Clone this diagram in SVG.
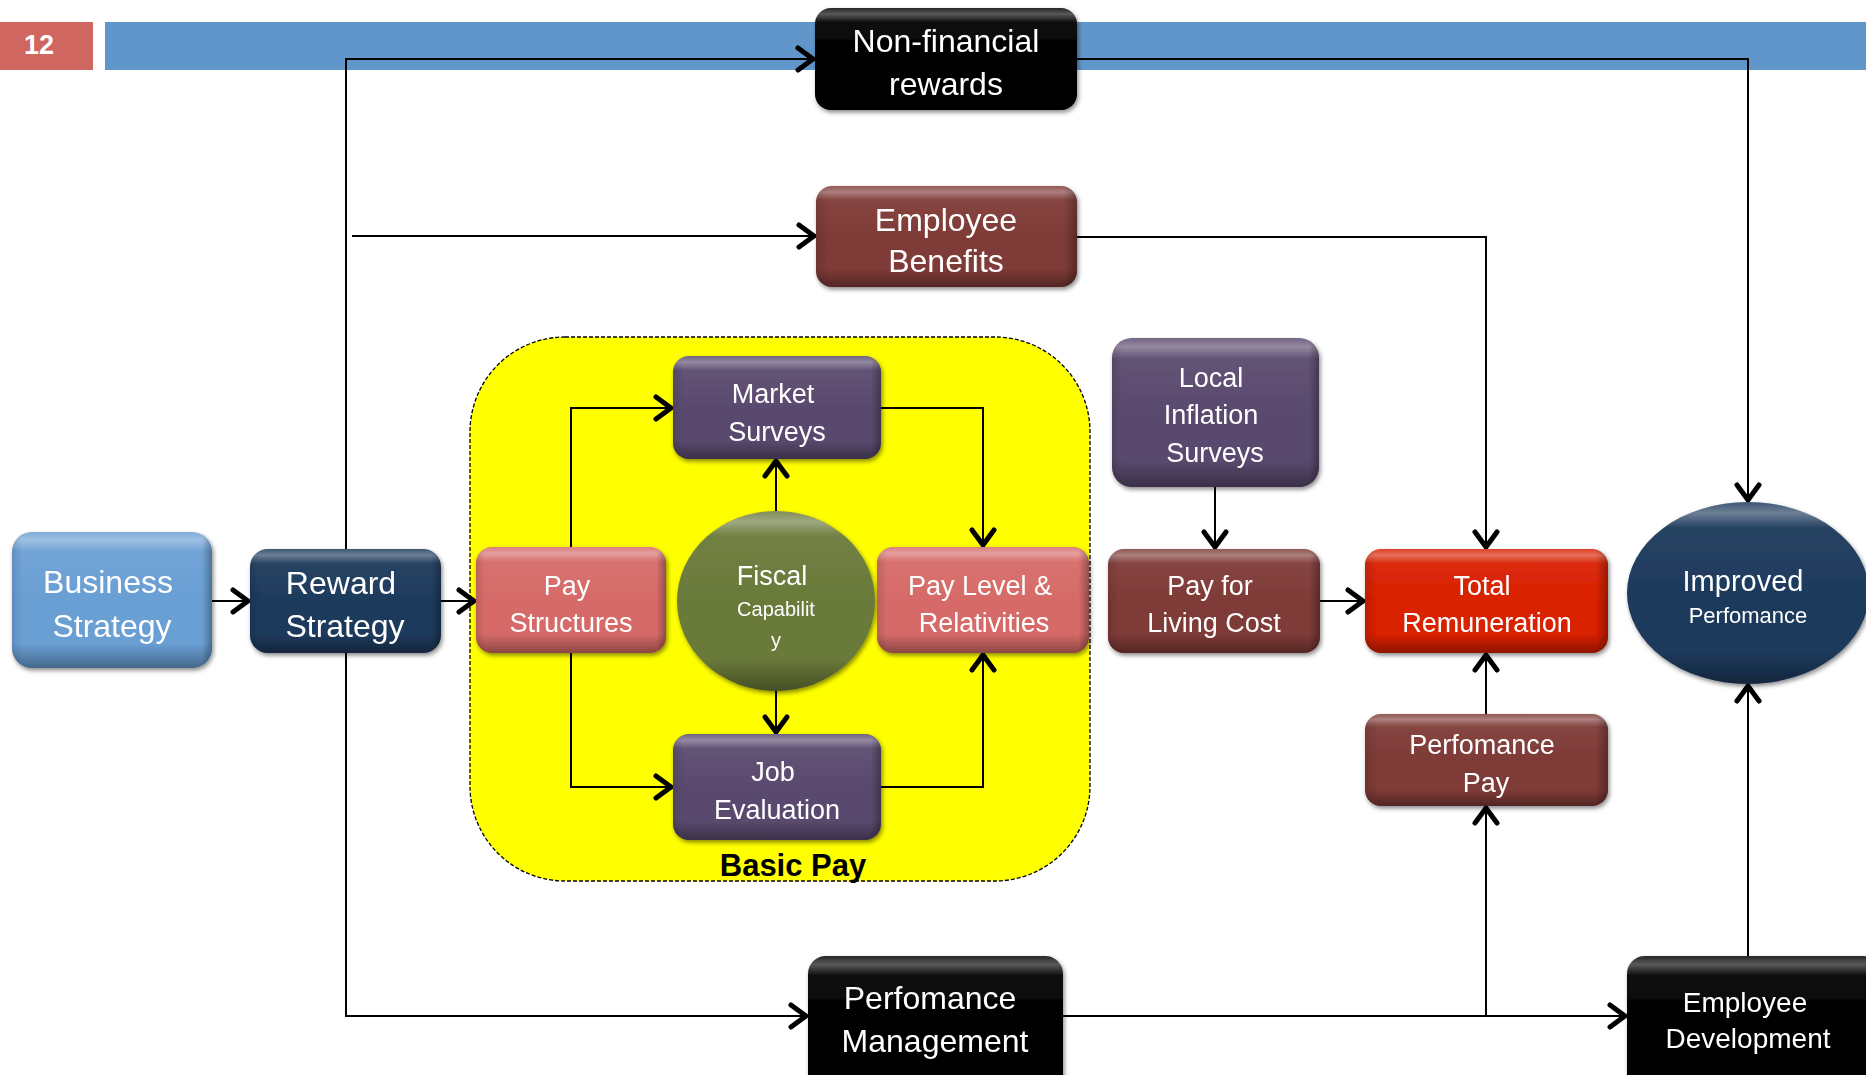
<svg xmlns="http://www.w3.org/2000/svg" width="1866" height="1075" viewBox="0 0 1866 1075">
<defs>
<linearGradient id="gloss" x1="0" y1="0" x2="0" y2="1">
<stop offset="0" stop-color="#fff" stop-opacity="0.15"/>
<stop offset="0.06" stop-color="#fff" stop-opacity="0.35"/>
<stop offset="0.14" stop-color="#fff" stop-opacity="0.05"/>
<stop offset="0.5" stop-color="#fff" stop-opacity="0"/>
<stop offset="0.82" stop-color="#000" stop-opacity="0"/>
<stop offset="1" stop-color="#000" stop-opacity="0.35"/>
</linearGradient>
<linearGradient id="side" x1="0" y1="0" x2="1" y2="0">
<stop offset="0" stop-color="#000" stop-opacity="0.12"/>
<stop offset="0.05" stop-color="#000" stop-opacity="0"/>
<stop offset="0.95" stop-color="#000" stop-opacity="0"/>
<stop offset="1" stop-color="#000" stop-opacity="0.3"/>
</linearGradient>
<filter id="sh" x="-10%" y="-10%" width="125%" height="130%">
<feDropShadow dx="1.5" dy="2.5" stdDeviation="2" flood-color="#000" flood-opacity="0.45"/>
</filter>
<marker id="arr" markerUnits="userSpaceOnUse" markerWidth="40" markerHeight="40" viewBox="-20 -20 40 40" refX="0" refY="0" orient="auto" overflow="visible">
<path d="M-16,-11 L-1,0 L-16,11" fill="none" stroke="#000" stroke-width="5" stroke-linejoin="miter" stroke-linecap="round"/>
</marker>
<style>
.t{font-family:"Liberation Sans",Arial,sans-serif;fill:#fff;text-anchor:middle}
.b{font-size:32px}
.s{font-size:27px}
.ca{fill:none;stroke:#000;stroke-width:2;marker-end:url(#arr)}
.n{filter:url(#sh)}
.ov{fill:url(#gloss)}
.ov2{fill:url(#side)}
.blue{fill:#6a9fd4}
.navy{fill:#1d3a5c}
.pink{fill:#d66b68}
.purp{fill:#5a4a6e}
.brown{fill:#7f3b37}
.red{fill:#d92000}
.olive{fill:#6a7a3a}
.blk{fill:#000}
</style>
</defs>

<g id="header">
<rect x="0" y="22" width="93" height="48" fill="#d06660"/>
<rect x="105" y="22" width="1761" height="48" fill="#6096c9"/>
<text x="39" y="54" font-family="'Liberation Sans Narrow','Liberation Sans',Arial,sans-serif" font-weight="bold" font-size="27" fill="#fff" text-anchor="middle">12</text>
</g>

<g id="basic-pay">
<rect x="470" y="337" width="620" height="544" rx="95" fill="#ffff00" stroke="#000" stroke-width="1.3" stroke-dasharray="4 2"/>
<text x="793" y="876" font-family="'Liberation Sans',Arial,sans-serif" font-weight="bold" font-size="31" fill="#000" text-anchor="middle">Basic Pay</text>
</g>

<g id="connectors">
<path class="ca" d="M212,601 H249"/>
<path class="ca" d="M441,601 H475"/>
<path class="ca" d="M346,549 V59 H814"/>
<path class="ca" d="M352,236 H815"/>
<path class="ca" d="M346,653 V1016 H807"/>
<path class="ca" d="M571,547 V408 H672"/>
<path class="ca" d="M571,653 V787 H672"/>
<path class="ca" d="M881,408 H983 V546"/>
<path class="ca" d="M881,787 H983 V654"/>
<path class="ca" d="M776,512 V460"/>
<path class="ca" d="M776,691 V733"/>
<path class="ca" d="M1215,487 V548"/>
<path class="ca" d="M1320,601 H1364"/>
<path class="ca" d="M1077,237 H1486 V548"/>
<path class="ca" d="M1077,59 H1748 V501"/>
<path class="ca" d="M1063,1016 H1626"/>
<path class="ca" d="M1486,1016 V807"/>
<path class="ca" d="M1486,714 V654"/>
<path class="ca" d="M1748,956 V685"/>
</g>

<g id="non-financial-rewards" class="n">
<rect class="blk" x="815" y="8" width="262" height="102" rx="16"/>
<rect class="ov" x="815" y="8" width="262" height="102" rx="16"/>
<text class="t b" x="946" y="52">Non-financial</text>
<text class="t b" x="946" y="95">rewards</text>
</g>

<g id="employee-benefits" class="n">
<rect class="brown" x="816" y="186" width="261" height="101" rx="16"/>
<rect class="ov" x="816" y="186" width="261" height="101" rx="16"/>
<rect class="ov2" x="816" y="186" width="261" height="101" rx="16"/>
<text class="t b" x="946" y="231">Employee</text>
<text class="t b" x="946" y="272">Benefits</text>
</g>

<g id="business-strategy" class="n">
<rect class="blue" x="12" y="532" width="200" height="136" rx="20"/>
<rect class="ov" x="12" y="532" width="200" height="136" rx="20"/>
<rect class="ov2" x="12" y="532" width="200" height="136" rx="20"/>
<text class="t b" x="108" y="593">Business</text>
<text class="t b" x="112" y="637">Strategy</text>
</g>

<g id="reward-strategy" class="n">
<rect class="navy" x="250" y="549" width="191" height="104" rx="18"/>
<rect class="ov" x="250" y="549" width="191" height="104" rx="18"/>
<rect class="ov2" x="250" y="549" width="191" height="104" rx="18"/>
<text class="t b" x="341" y="594">Reward</text>
<text class="t b" x="345" y="637">Strategy</text>
</g>

<g id="pay-structures" class="n">
<rect class="pink" x="476" y="547" width="190" height="106" rx="16"/>
<rect class="ov" x="476" y="547" width="190" height="106" rx="16"/>
<rect class="ov2" x="476" y="547" width="190" height="106" rx="16"/>
<text class="t s" x="567" y="595">Pay</text>
<text class="t s" x="571" y="632">Structures</text>
</g>

<g id="market-surveys" class="n">
<rect class="purp" x="673" y="356" width="208" height="103" rx="16"/>
<rect class="ov" x="673" y="356" width="208" height="103" rx="16"/>
<rect class="ov2" x="673" y="356" width="208" height="103" rx="16"/>
<text class="t s" x="773" y="403">Market</text>
<text class="t s" x="777" y="441">Surveys</text>
</g>

<g id="fiscal-capability" class="n">
<ellipse class="olive" cx="776" cy="601" rx="99" ry="90"/>
<ellipse class="ov" cx="776" cy="601" rx="99" ry="90"/>
<text class="t" x="772" y="585" font-size="27">Fiscal</text>
<text class="t" x="776" y="616" font-size="20">Capabilit</text>
<text class="t" x="776" y="647" font-size="20">y</text>
</g>

<g id="pay-level-relativities" class="n">
<rect class="pink" x="877" y="547" width="212" height="106" rx="16"/>
<rect class="ov" x="877" y="547" width="212" height="106" rx="16"/>
<rect class="ov2" x="877" y="547" width="212" height="106" rx="16"/>
<text class="t s" x="980" y="595">Pay Level &amp;</text>
<text class="t s" x="984" y="632">Relativities</text>
</g>

<g id="job-evaluation" class="n">
<rect class="purp" x="673" y="734" width="208" height="106" rx="16"/>
<rect class="ov" x="673" y="734" width="208" height="106" rx="16"/>
<rect class="ov2" x="673" y="734" width="208" height="106" rx="16"/>
<text class="t s" x="773" y="781">Job</text>
<text class="t s" x="777" y="819">Evaluation</text>
</g>

<g id="local-inflation-surveys" class="n">
<rect class="purp" x="1112" y="338" width="207" height="149" rx="20"/>
<rect class="ov" x="1112" y="338" width="207" height="149" rx="20"/>
<rect class="ov2" x="1112" y="338" width="207" height="149" rx="20"/>
<text class="t s" x="1211" y="387">Local</text>
<text class="t s" x="1211" y="424">Inflation</text>
<text class="t s" x="1215" y="462">Surveys</text>
</g>

<g id="pay-for-living-cost" class="n">
<rect class="brown" x="1108" y="549" width="212" height="104" rx="16"/>
<rect class="ov" x="1108" y="549" width="212" height="104" rx="16"/>
<rect class="ov2" x="1108" y="549" width="212" height="104" rx="16"/>
<text class="t s" x="1210" y="595">Pay for</text>
<text class="t s" x="1214" y="632">Living Cost</text>
</g>

<g id="total-remuneration" class="n">
<rect class="red" x="1365" y="549" width="243" height="104" rx="16"/>
<rect class="ov" x="1365" y="549" width="243" height="104" rx="16"/>
<rect class="ov2" x="1365" y="549" width="243" height="104" rx="16"/>
<text class="t s" x="1482" y="595">Total</text>
<text class="t s" x="1487" y="632">Remuneration</text>
</g>

<g id="perfomance-pay" class="n">
<rect class="brown" x="1365" y="714" width="243" height="92" rx="16"/>
<rect class="ov" x="1365" y="714" width="243" height="92" rx="16"/>
<rect class="ov2" x="1365" y="714" width="243" height="92" rx="16"/>
<text class="t s" x="1482" y="754">Perfomance</text>
<text class="t s" x="1486" y="792">Pay</text>
</g>

<g id="improved-perfomance" class="n">
<ellipse class="navy" cx="1748" cy="593" rx="121" ry="91"/>
<ellipse class="ov" cx="1748" cy="593" rx="121" ry="91"/>
<text class="t" x="1743" y="591" font-size="29">Improved</text>
<text class="t" x="1748" y="623" font-size="22">Perfomance</text>
</g>

<g id="perfomance-management" class="n">
<rect class="blk" x="808" y="956" width="255" height="140" rx="18"/>
<rect class="ov" x="808" y="956" width="255" height="140" rx="18"/>
<text class="t b" x="930" y="1009">Perfomance</text>
<text class="t b" x="935" y="1052">Management</text>
</g>

<g id="employee-development" class="n">
<rect class="blk" x="1627" y="956" width="253" height="140" rx="18"/>
<rect class="ov" x="1627" y="956" width="253" height="140" rx="18"/>
<text class="t" x="1745" y="1012" font-size="28">Employee</text>
<text class="t" x="1748" y="1048" font-size="28">Development</text>
</g>
</svg>
